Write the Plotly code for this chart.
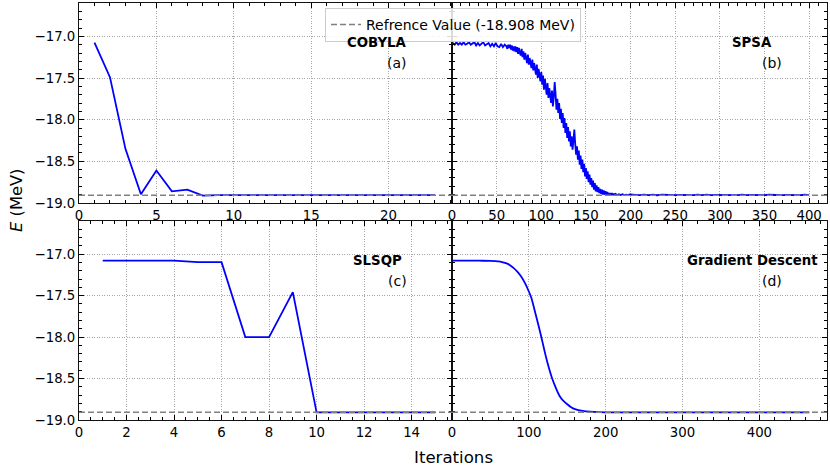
import plotly.graph_objects as go

REF_VALUE = -18.908
REF_LABEL = "Refrence Value (-18.908 MeV)"

# COBYLA
cobyla_iter = list(range(1, 24))
cobyla_E = [-17.076, -17.49, -18.35, -18.895, -18.61, -18.86, -18.84, -18.912,
            -18.905, -18.905, -18.905, -18.905, -18.905, -18.905, -18.905, -18.905,
            -18.905, -18.905, -18.905, -18.905, -18.905, -18.905, -18.905]

# SPSA
spsa_iter = list(range(1, 61, 2)) + list(range(61, 181)) + list(range(181, 200, 2)) + list(range(205, 401, 5))
spsa_E = [
    # 1..59 step 2
    -17.08, -17.10, -17.07, -17.10, -17.08, -17.10, -17.07, -17.10, -17.09, -17.07,
    -17.10, -17.09, -17.07, -17.11, -17.08, -17.11, -17.09, -17.07, -17.11, -17.09,
    -17.08, -17.12, -17.09, -17.12, -17.08, -17.12, -17.13, -17.09, -17.13, -17.10,
    # 61..180 step 1
    -17.12, -17.15, -17.10, -17.14, -17.10, -17.16, -17.11, -17.17, -17.12, -17.18,
    -17.12, -17.19, -17.13, -17.21, -17.14, -17.20, -17.23, -17.15, -17.25, -17.18,
    -17.28, -17.20, -17.27, -17.32, -17.22, -17.34, -17.26, -17.31, -17.38, -17.28,
    -17.41, -17.32, -17.37, -17.46, -17.34, -17.50, -17.39, -17.46, -17.54, -17.43,
    -17.58, -17.47, -17.64, -17.51, -17.59, -17.70, -17.56, -17.74, -17.62, -17.70,
    -17.80, -17.65, -17.84, -17.73, -17.55, -17.69, -17.88, -17.75, -17.92, -17.80,
    -17.99, -17.87, -18.04, -17.92, -18.10, -17.98, -18.16, -18.04, -18.22, -18.09,
    -18.26, -18.14, -18.32, -18.20, -18.36, -18.25, -18.12, -18.29, -18.42, -18.32,
    -18.48, -18.37, -18.54, -18.43, -18.59, -18.48, -18.63, -18.53, -18.68, -18.58,
    -18.71, -18.62, -18.75, -18.66, -18.78, -18.70, -18.81, -18.73, -18.84, -18.76,
    -18.86, -18.79, -18.87, -18.81, -18.88, -18.83, -18.89, -18.84, -18.90, -18.85,
    -18.90, -18.86, -18.90, -18.87, -18.90, -18.88, -18.905, -18.88, -18.905, -18.89,
    # 181..199 step 2
    -18.90, -18.89, -18.905, -18.895, -18.905, -18.895, -18.905, -18.90, -18.905, -18.898,
    # 205..400 step 5
    -18.902, -18.906, -18.899, -18.905, -18.901, -18.907, -18.900, -18.904, -18.899, -18.906,
    -18.902, -18.905, -18.899, -18.906, -18.901, -18.905, -18.900, -18.906, -18.902, -18.904,
    -18.899, -18.906, -18.901, -18.905, -18.900, -18.906, -18.902, -18.905, -18.899, -18.906,
    -18.901, -18.904, -18.900, -18.906, -18.902, -18.905, -18.899, -18.906, -18.901, -18.905,
]

# SLSQP
slsqp_iter = list(range(1, 16))
slsqp_E = [-17.077, -17.077, -17.077, -17.077, -17.096, -17.096, -18.0, -18.0,
           -17.458, -18.908, -18.908, -18.908, -18.908, -18.908, -18.908]

# Gradient Descent
gd_iter = [1, 10, 20, 30, 40, 50, 60, 65, 70, 75, 80, 85, 90, 95, 100, 103, 106, 109,
           112, 115, 118, 121, 124, 127, 130, 135, 140, 145, 150, 155, 160, 170, 180,
           190, 200, 250, 300, 350, 400, 465]
gd_E = [-17.077, -17.077, -17.077, -17.078, -17.079, -17.082, -17.088, -17.095, -17.108,
        -17.13, -17.165, -17.21, -17.27, -17.35, -17.45, -17.52, -17.62, -17.73, -17.84,
        -17.95, -18.07, -18.19, -18.30, -18.40, -18.49, -18.61, -18.71, -18.77, -18.81,
        -18.845, -18.868, -18.89, -18.90, -18.905, -18.907, -18.908, -18.908, -18.908,
        -18.908, -18.908]

panel_names = ["COBYLA", "SPSA", "SLSQP", "Gradient Descent"]
panel_tags = ["(a)", "(b)", "(c)", "(d)"]

FONT = "DejaVu Sans"
BLUE = "#0000ff"
GRAY = "#808080"

fig = go.Figure()
series = [(cobyla_iter, cobyla_E), (spsa_iter, spsa_E), (slsqp_iter, slsqp_E), (gd_iter, gd_E)]
shapes_ = ["linear", "linear", "linear", "spline"]
for i, (xs, ys) in enumerate(series):
    k = "" if i == 0 else str(i + 1)
    fig.add_trace(go.Scatter(x=xs, y=ys, mode="lines",
                             line=dict(color=BLUE, width=1.8, shape=shapes_[i], smoothing=0.8),
                             xaxis="x" + k, yaxis="y" + k, showlegend=False))

# legend entry for reference line
fig.add_trace(go.Scatter(x=[None], y=[None], mode="lines", name=REF_LABEL,
                         line=dict(color=GRAY, width=1.5, dash="6px,3px"),
                         xaxis="x", yaxis="y", showlegend=True))

for i in range(4):
    k = "" if i == 0 else str(i + 1)
    fig.add_shape(type="line", xref=("x" + k + " domain"), yref="y" + k,
                  x0=0, x1=1, y0=REF_VALUE, y1=REF_VALUE,
                  line=dict(color=GRAY, width=1.5, dash="6px,3px"), layer="above")

xl = 373 / 748
xdom = [[0, xl], [xl, 1], [0, xl], [xl, 1]]
ydom = [[0.5204, 1], [0.5204, 1], [0, 0.4772], [0, 0.4772]]
xranges = [[0, 24.1], [0, 420], [0, 15.7], [0, 488]]
xdt = [5, 50, 2, 100]
xmdt = [1, 10, 0.5, 20]

common = dict(showline=True, linecolor="#111111", linewidth=1.1, mirror="ticks",
              ticks="inside", ticklen=5, tickwidth=1, tickcolor="black",
              showgrid=True, gridcolor="#a8a8a8", griddash="1px,1.5px", gridwidth=0.6,
              zeroline=False, automargin=False,
              tickfont=dict(family=FONT, size=13.3, color="black"))

layout_axes = {}
for i in range(4):
    k = "" if i == 0 else str(i + 1)
    layout_axes["xaxis" + k] = dict(common, domain=xdom[i], range=xranges[i], anchor="y" + k,
                                    tick0=0, dtick=xdt[i],
                                    minor=dict(ticks="inside", ticklen=3, tickwidth=1,
                                               tickcolor="black", dtick=xmdt[i], tick0=0,
                                               showgrid=False))
    layout_axes["yaxis" + k] = dict(common, domain=ydom[i], range=[-19.0, -16.6], anchor="x" + k,
                                    tick0=0, dtick=0.5, tickformat=".1f",
                                    showticklabels=(i % 2 == 0),
                                    minor=dict(ticks="inside", ticklen=3, tickwidth=1,
                                               tickcolor="black", dtick=0.1, tick0=0,
                                               showgrid=False))

annotations = []
for i in range(4):
    k = "" if i == 0 else str(i + 1)
    annotations.append(dict(text="<b>" + panel_names[i] + "</b>", xref="x" + k + " domain",
                            yref="y" + k + " domain", x=0.8, y=0.8, xanchor="center",
                            yanchor="middle", showarrow=False,
                            font=dict(family=FONT, size=13.3, color="black")))
    annotations.append(dict(text=panel_tags[i], xref="x" + k + " domain",
                            yref="y" + k + " domain", x=0.853, y=0.70, xanchor="center",
                            yanchor="middle", showarrow=False,
                            font=dict(family=FONT, size=14, color="black")))

annotations.append(dict(text="Iterations", xref="paper", yref="paper", x=0.5, y=-0.0911,
                        xanchor="center", yanchor="middle", showarrow=False,
                        font=dict(family=FONT, size=16.6, color="black")))
annotations.append(dict(text="<i>E</i> (MeV)", xref="paper", yref="paper", x=-0.083, y=0.5276,
                        xanchor="center", yanchor="middle", showarrow=False, textangle=-90,
                        font=dict(family=FONT, size=16.3, color="black")))

fig.update_layout(
    width=830, height=471,
    margin=dict(l=79, r=3, t=3, b=51, autoexpand=False),
    paper_bgcolor="white", plot_bgcolor="white",
    font=dict(family=FONT, size=13.3, color="black"),
    legend=dict(x=0.5, y=0.988, xanchor="center", yanchor="top",
                bgcolor="rgba(255,255,255,0.85)", bordercolor="#cccccc", borderwidth=1,
                font=dict(family=FONT, size=14, color="black"), itemwidth=30),
    annotations=annotations,
    **layout_axes,
)

fig.write_html("out.html", config={"displayModeBar": False},
               post_script="document.body.style.margin='0';document.body.style.padding='0';")
